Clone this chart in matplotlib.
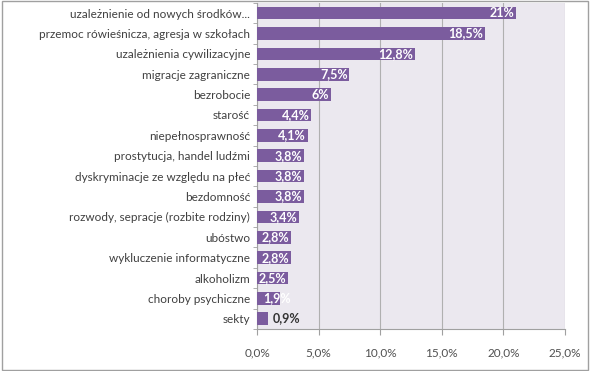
import matplotlib
matplotlib.use("Agg")
import matplotlib.pyplot as plt
from matplotlib.patches import Rectangle
import numpy as np

categories = ["uzależnienie od nowych środków...", "przemoc rówieśnicza, agresja w szkołach",
              "uzależnienia cywilizacyjne", "migracje zagraniczne", "bezrobocie", "starość",
              "niepełnosprawność", "prostytucja, handel ludźmi", "dyskryminacje ze względu na płeć",
              "bezdomność", "rozwody, sepracje (rozbite rodziny)", "ubóstwo",
              "wykluczenie informatyczne", "alkoholizm", "choroby psychiczne", "sekty"]
values = [21, 18.5, 12.8, 7.5, 6, 4.4, 4.1, 3.8, 3.8, 3.8, 3.4, 2.8, 2.8, 2.5, 1.9, 0.9]
value_labels = ["21%", "18,5%", "12,8%", "7,5%", "6%", "4,4%", "4,1%", "3,8%", "3,8%", "3,8%",
                "3,4%", "2,8%", "2,8%", "2,5%", "1,9%", "0,9%"]
xticks = [0, 5, 10, 15, 20, 25]
xtick_labels = ["0,0%", "5,0%", "10,0%", "15,0%", "20,0%", "25,0%"]

plt.rcParams['font.family'] = ['Lato', 'DejaVu Sans']

fig = plt.figure(figsize=(5.9, 3.71), dpi=100)
fig.patches.append(Rectangle((0.004, 0.004), 0.992, 0.992, transform=fig.transFigure,
                             fill=False, edgecolor='#a0a0a0', linewidth=1.0))
ax = fig.add_axes([0.4356, 0.1132, 0.5220, 0.8790])
ax.set_facecolor('#ebe8ef')

n = len(categories)
y = np.arange(n)[::-1]
bar_color = '#7b5c9e'
ax.barh(y, values, height=0.62, color=bar_color, zorder=3)
for yi, v, lab in zip(y, values, value_labels):
    if v < 1.5:
        ax.text(v + 0.35, yi + 0.05, lab, ha='left', va='center', color='#333333',
                fontsize=9, fontweight='bold', zorder=4)
    elif v < 2.2:
        ax.text(0.5, yi, lab, ha='left', va='center', color='white',
                fontsize=9, fontweight='bold', zorder=4)
    else:
        ax.text(v - 0.15, yi, lab, ha='right', va='center', color='white',
                fontsize=9, fontweight='bold', zorder=4)

ax.set_xlim(0, 25)
ax.set_ylim(-0.5, n - 0.5)
ax.set_xticks(xticks)
ax.set_xticklabels(xtick_labels, fontsize=8.5, color='#505050')
ax.set_yticks(y)
ax.set_yticklabels(categories, fontsize=8.5, color='#404040')
ax.tick_params(axis='y', which='major', length=0, pad=5)
ax.set_yticks(np.arange(-0.5, n, 1.0), minor=True)
ax.tick_params(axis='y', which='minor', length=3, color='#a0a0a0', direction='out')
ax.tick_params(axis='x', length=4, color='#a0a0a0', pad=9)
ax.xaxis.grid(True, color='#b0b0b0', linewidth=0.8, zorder=0)
ax.set_axisbelow(True)
for s in ['top', 'right']:
    ax.spines[s].set_visible(False)
ax.spines['left'].set_color('#a0a0a0')
ax.spines['bottom'].set_color('#a0a0a0')

fig.savefig('out.png', dpi=100)
